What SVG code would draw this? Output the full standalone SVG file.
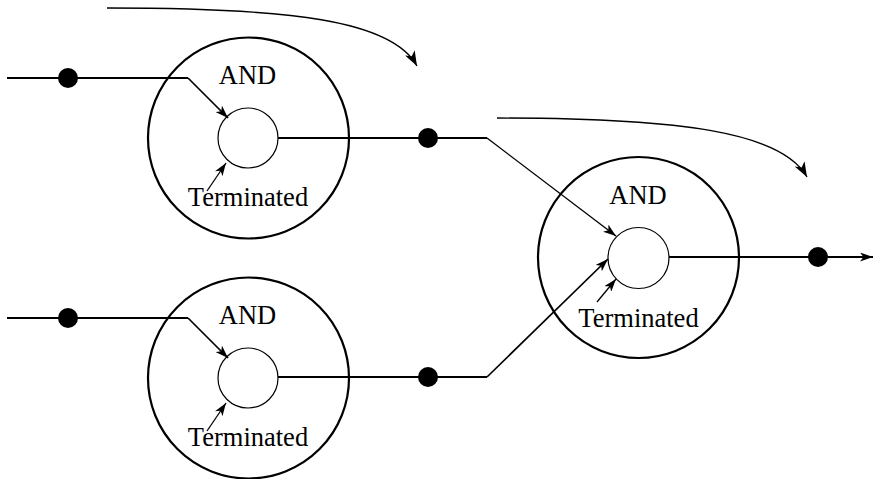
<svg xmlns="http://www.w3.org/2000/svg" width="874" height="479" viewBox="0 0 874 479">
  <defs>
    <marker id="arrow" viewBox="0 0 13 9" refX="13" refY="4.5" markerWidth="13" markerHeight="9" markerUnits="userSpaceOnUse" orient="auto">
      <path d="M0,0 L13,4.5 L0,9 L3.5,4.5 Z" fill="#000"/>
    </marker>
    <marker id="arrow-big" viewBox="0 0 15 11" refX="15" refY="5.5" markerWidth="15" markerHeight="11" markerUnits="userSpaceOnUse" orient="auto">
      <path d="M0,0 L15,5.5 L0,11 L4,5.5 Z" fill="#000"/>
    </marker>
  </defs>
  <style>
    .outer { fill: none; stroke: #000; stroke-width: 2.2; }
    .inner { fill: #fff; stroke: #000; stroke-width: 1.2; }
    .wire { fill: none; stroke: #000; stroke-width: 2; }
    .diag { fill: none; stroke: #000; stroke-width: 1.7; }
    .thin { fill: none; stroke: #000; stroke-width: 1.3; }
    .dot { fill: #000; }
    .lbl { font-family: "Liberation Serif", "Times New Roman", serif; font-size: 26.5px; text-anchor: middle; fill: #000; }
  </style>
  <rect width="874" height="479" fill="#fff"/>

  <!-- AND gate, upper left -->
  <g id="and-top">
    <circle class="outer" cx="248.5" cy="138" r="100.5"/>
    <circle class="inner" cx="248" cy="138" r="30"/>
    <text class="lbl" x="247.5" y="84">AND</text>
    <text class="lbl" x="248" y="206">Terminated</text>
  </g>

  <!-- AND gate, lower left -->
  <g id="and-bottom">
    <circle class="outer" cx="248.5" cy="378" r="100.5"/>
    <circle class="inner" cx="248" cy="378" r="30"/>
    <text class="lbl" x="247.5" y="324">AND</text>
    <text class="lbl" x="248" y="446">Terminated</text>
  </g>

  <!-- AND gate, right -->
  <g id="and-right">
    <circle class="outer" cx="638.5" cy="257.5" r="100.5"/>
    <circle class="inner" cx="638.5" cy="258" r="30.5"/>
    <text class="lbl" x="638" y="204">AND</text>
    <text class="lbl" x="638.5" y="327">Terminated</text>
  </g>

  <g id="connectors">
    <!-- input to upper gate -->
    <path class="wire" d="M7,78 H188"/>
    <path class="diag" d="M188,78 L228,118" marker-end="url(#arrow)"/>
    <path class="thin" d="M207,191 L226,163" marker-end="url(#arrow)"/>

    <!-- input to lower gate -->
    <path class="wire" d="M7,318 H188"/>
    <path class="diag" d="M188,318 L228,358" marker-end="url(#arrow)"/>
    <path class="thin" d="M207,431 L226,403" marker-end="url(#arrow)"/>

    <!-- upper gate output to right gate -->
    <path class="wire" d="M278,138 H487"/>
    <path class="thin" d="M487,138 L616,236" marker-end="url(#arrow)"/>

    <!-- lower gate output to right gate -->
    <path class="wire" d="M278,377 H487"/>
    <path class="diag" d="M487,377 L608,259" marker-end="url(#arrow)"/>

    <!-- right gate terminated arrow and output -->
    <path class="thin" d="M597,302 L616,279" marker-end="url(#arrow)"/>
    <path class="wire" d="M669,257 H873" marker-end="url(#arrow)"/>

    <!-- curved flow arrows -->
    <path class="thin" d="M107,8 C290,8 392,20 417,66" marker-end="url(#arrow-big)"/>
    <path class="thin" d="M497,118 C680,118 782,132 807,177" marker-end="url(#arrow-big)"/>

    <!-- token dots -->
    <circle class="dot" cx="68" cy="78" r="10"/>
    <circle class="dot" cx="68" cy="318" r="10"/>
    <circle class="dot" cx="428" cy="138" r="10"/>
    <circle class="dot" cx="428" cy="377" r="10"/>
    <circle class="dot" cx="818" cy="257" r="10"/>
  </g>
</svg>
